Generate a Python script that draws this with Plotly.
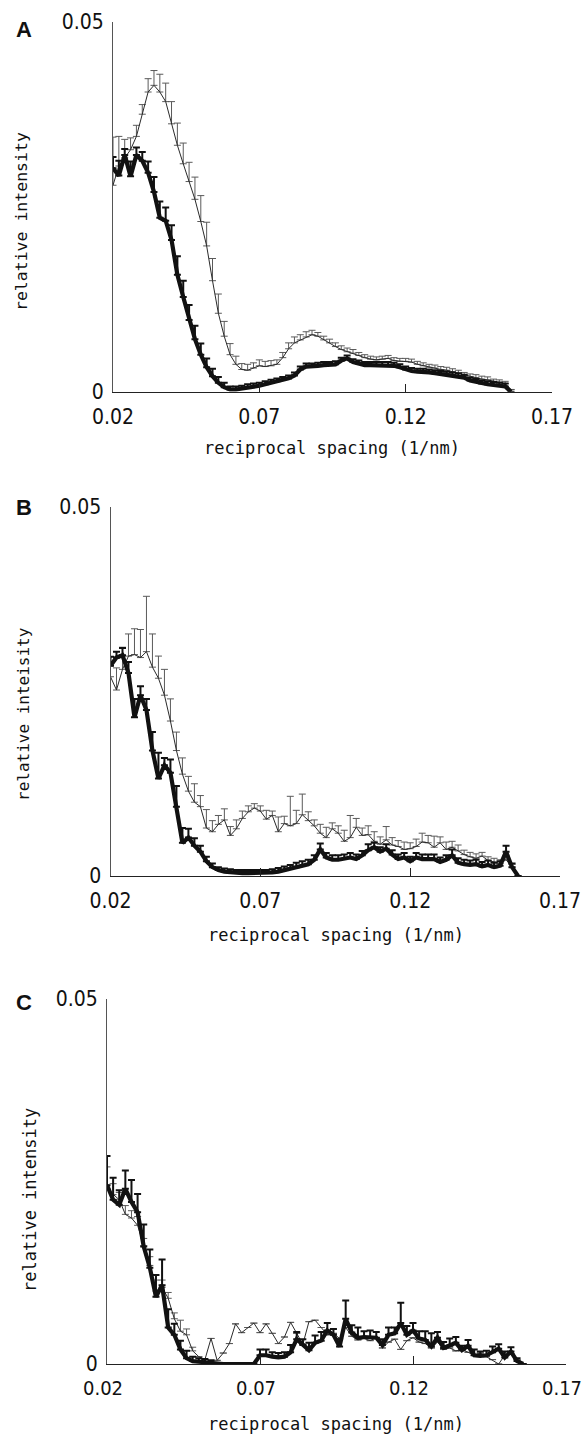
import plotly.graph_objects as go

# ---------------- data ----------------
X_START = 0.020
X_STEP = 0.002
N_POINTS = 69
spacing = [round(X_START + X_STEP * i, 3) for i in range(N_POINTS)]

# Panel A
a_thin = [0.0279, 0.0305, 0.0316, 0.0327, 0.0345, 0.0375, 0.0405, 0.0414, 0.0405, 0.0392,
          0.0362, 0.0333, 0.0308, 0.0284, 0.0260, 0.0230, 0.0197, 0.0150, 0.0106, 0.0075,
          0.0050, 0.0037, 0.0030, 0.0029, 0.0032, 0.0035, 0.0034, 0.0035, 0.0037, 0.0046,
          0.0058, 0.0066, 0.0070, 0.0074, 0.0077, 0.0075, 0.0070, 0.0066, 0.0061, 0.0057,
          0.0054, 0.0052, 0.0049, 0.0046, 0.0044, 0.0043, 0.0044, 0.0045, 0.0042, 0.0041,
          0.0041, 0.0040, 0.0037, 0.0035, 0.0033, 0.0032, 0.0030, 0.0029, 0.0027, 0.0025,
          0.0022, 0.0020, 0.0019, 0.0017, 0.0016, 0.0014, 0.0013, 0.0011, 0.0003]
a_thin_err = [0.0065, 0.0040, 0.0025, 0.0016, 0.0015, 0.0013, 0.0018, 0.0020, 0.0024, 0.0025,
              0.0030, 0.0030, 0.0028, 0.0026, 0.0030, 0.0035, 0.0032, 0.0030, 0.0026, 0.0020,
              0.0015, 0.0011, 0.0008, 0.0008, 0.0007, 0.0008, 0.0007, 0.0007, 0.0006, 0.0007,
              0.0008, 0.0008, 0.0007, 0.0007, 0.0006, 0.0005, 0.0005, 0.0005, 0.0005, 0.0005,
              0.0005, 0.0005, 0.0004, 0.0004, 0.0004, 0.0004, 0.0004, 0.0004, 0.0004, 0.0004,
              0.0004, 0.0004, 0.0004, 0.0004, 0.0004, 0.0004, 0.0004, 0.0004, 0.0004, 0.0004,
              0.0004, 0.0004, 0.0004, 0.0004, 0.0004, 0.0003, 0.0003, 0.0003, 0.0000]
a_thick = [0.0302, 0.0292, 0.0320, 0.0291, 0.0320, 0.0312, 0.0296, 0.0270, 0.0235, 0.0231,
           0.0205, 0.0158, 0.0128, 0.0097, 0.0071, 0.0050, 0.0033, 0.0021, 0.0012, 0.0006,
           0.0003, 0.0003, 0.0004, 0.0006, 0.0007, 0.0008, 0.0010, 0.0012, 0.0014, 0.0016,
           0.0018, 0.0022, 0.0030, 0.0034, 0.0034, 0.0035, 0.0036, 0.0036, 0.0037, 0.0042,
           0.0045, 0.0040, 0.0038, 0.0036, 0.0036, 0.0036, 0.0036, 0.0036, 0.0035, 0.0033,
           0.0030, 0.0028, 0.0027, 0.0027, 0.0026, 0.0025, 0.0024, 0.0023, 0.0022, 0.0021,
           0.0019, 0.0015, 0.0013, 0.0011, 0.0010, 0.0009, 0.0008, 0.0007, 0.0000]
a_thick_err = [0.0015, 0.0020, 0.0008, 0.0020, 0.0010, 0.0012, 0.0015, 0.0020, 0.0022, 0.0018,
               0.0020, 0.0025, 0.0022, 0.0020, 0.0018, 0.0015, 0.0012, 0.0010, 0.0008, 0.0006,
               0.0004, 0.0004, 0.0004, 0.0004, 0.0004, 0.0004, 0.0004, 0.0004, 0.0004, 0.0004,
               0.0004, 0.0004, 0.0004, 0.0004, 0.0004, 0.0004, 0.0004, 0.0004, 0.0004, 0.0004,
               0.0004, 0.0004, 0.0004, 0.0004, 0.0004, 0.0004, 0.0004, 0.0004, 0.0004, 0.0004,
               0.0004, 0.0004, 0.0004, 0.0004, 0.0004, 0.0004, 0.0004, 0.0004, 0.0004, 0.0004,
               0.0004, 0.0004, 0.0004, 0.0004, 0.0004, 0.0004, 0.0004, 0.0004, 0.0000]

# Panel B
b_thin = [0.0270, 0.0252, 0.0280, 0.0298, 0.0300, 0.0296, 0.0304, 0.0283, 0.0268, 0.0245,
          0.0210, 0.0170, 0.0138, 0.0115, 0.0100, 0.0094, 0.0065, 0.0060, 0.0070, 0.0076,
          0.0055, 0.0064, 0.0078, 0.0087, 0.0092, 0.0088, 0.0077, 0.0082, 0.0060, 0.0071,
          0.0068, 0.0071, 0.0083, 0.0075, 0.0068, 0.0058, 0.0052, 0.0064, 0.0058, 0.0047,
          0.0052, 0.0066, 0.0055, 0.0056, 0.0047, 0.0043, 0.0049, 0.0042, 0.0040, 0.0036,
          0.0037, 0.0040, 0.0046, 0.0045, 0.0039, 0.0045, 0.0036, 0.0039, 0.0034, 0.0029,
          0.0026, 0.0024, 0.0027, 0.0021, 0.0019, 0.0017, 0.0022, 0.0012, 0.0000]
b_thin_err = [0.0020, 0.0030, 0.0030, 0.0030, 0.0035, 0.0038, 0.0075, 0.0045, 0.0030, 0.0035,
              0.0030, 0.0025, 0.0022, 0.0020, 0.0025, 0.0015, 0.0025, 0.0015, 0.0012, 0.0015,
              0.0012, 0.0012, 0.0010, 0.0008, 0.0006, 0.0007, 0.0012, 0.0006, 0.0020, 0.0010,
              0.0040, 0.0018, 0.0028, 0.0012, 0.0008, 0.0012, 0.0014, 0.0008, 0.0010, 0.0015,
              0.0030, 0.0012, 0.0010, 0.0012, 0.0013, 0.0010, 0.0018, 0.0010, 0.0008, 0.0010,
              0.0008, 0.0010, 0.0012, 0.0010, 0.0015, 0.0008, 0.0010, 0.0008, 0.0008, 0.0006,
              0.0006, 0.0006, 0.0005, 0.0005, 0.0005, 0.0005, 0.0006, 0.0004, 0.0000]
b_thick = [0.0285, 0.0296, 0.0299, 0.0275, 0.0215, 0.0245, 0.0225, 0.0170, 0.0132, 0.0150,
           0.0140, 0.0094, 0.0045, 0.0052, 0.0041, 0.0033, 0.0020, 0.0012, 0.0008, 0.0006,
           0.0005, 0.0004, 0.0004, 0.0004, 0.0004, 0.0004, 0.0004, 0.0005, 0.0006, 0.0008,
           0.0010, 0.0012, 0.0014, 0.0016, 0.0022, 0.0036, 0.0025, 0.0022, 0.0022, 0.0023,
           0.0025, 0.0023, 0.0028, 0.0035, 0.0039, 0.0033, 0.0037, 0.0029, 0.0023, 0.0025,
           0.0020, 0.0025, 0.0023, 0.0023, 0.0023, 0.0019, 0.0022, 0.0028, 0.0018, 0.0016,
           0.0015, 0.0016, 0.0013, 0.0015, 0.0012, 0.0014, 0.0033, 0.0012, 0.0000]
b_thick_err = [0.0012, 0.0008, 0.0010, 0.0015, 0.0025, 0.0012, 0.0015, 0.0025, 0.0035, 0.0010,
               0.0018, 0.0028, 0.0020, 0.0012, 0.0010, 0.0008, 0.0006, 0.0005, 0.0004, 0.0004,
               0.0004, 0.0004, 0.0004, 0.0004, 0.0004, 0.0004, 0.0004, 0.0004, 0.0005, 0.0005,
               0.0005, 0.0006, 0.0006, 0.0006, 0.0006, 0.0008, 0.0006, 0.0006, 0.0006, 0.0006,
               0.0006, 0.0006, 0.0006, 0.0008, 0.0006, 0.0006, 0.0006, 0.0006, 0.0006, 0.0006,
               0.0006, 0.0006, 0.0006, 0.0006, 0.0006, 0.0006, 0.0006, 0.0008, 0.0006, 0.0006,
               0.0006, 0.0006, 0.0006, 0.0006, 0.0006, 0.0006, 0.0008, 0.0005, 0.0000]

# Panel C
c_thin = [0.0240, 0.0232, 0.0225, 0.0205, 0.0200, 0.0190, 0.0162, 0.0135, 0.0100, 0.0105,
          0.0090, 0.0062, 0.0045, 0.0040, 0.0018, 0.0010, 0.0006, 0.0035, 0.0005, 0.0015,
          0.0028, 0.0055, 0.0043, 0.0050, 0.0056, 0.0043, 0.0055, 0.0042, 0.0028, 0.0037,
          0.0057, 0.0042, 0.0027, 0.0058, 0.0060, 0.0050, 0.0040, 0.0042, 0.0035, 0.0050,
          0.0038, 0.0033, 0.0035, 0.0032, 0.0036, 0.0022, 0.0030, 0.0034, 0.0020, 0.0032,
          0.0036, 0.0030, 0.0028, 0.0022, 0.0030, 0.0020, 0.0022, 0.0018, 0.0020, 0.0016,
          0.0012, 0.0015, 0.0010, 0.0006, 0.0000, 0.0012, 0.0014, 0.0006, 0.0000]
c_thin_err = [0.0030, 0.0015, 0.0010, 0.0012, 0.0010, 0.0012, 0.0010, 0.0012, 0.0015, 0.0010,
              0.0008, 0.0008, 0.0015, 0.0008, 0.0005, 0.0000, 0.0000, 0.0000, 0.0000, 0.0000,
              0.0000, 0.0000, 0.0000, 0.0000, 0.0000, 0.0000, 0.0000, 0.0000, 0.0000, 0.0000,
              0.0000, 0.0000, 0.0000, 0.0000, 0.0000, 0.0000, 0.0000, 0.0000, 0.0000, 0.0000,
              0.0000, 0.0000, 0.0000, 0.0000, 0.0000, 0.0000, 0.0000, 0.0000, 0.0000, 0.0000,
              0.0000, 0.0000, 0.0000, 0.0000, 0.0000, 0.0000, 0.0000, 0.0000, 0.0000, 0.0000,
              0.0000, 0.0000, 0.0000, 0.0000, 0.0000, 0.0000, 0.0000, 0.0000, 0.0000]
c_thick = [0.0245, 0.0225, 0.0218, 0.0240, 0.0222, 0.0208, 0.0161, 0.0132, 0.0092, 0.0108,
           0.0050, 0.0040, 0.0020, 0.0008, 0.0004, 0.0003, 0.0002, 0.0001, 0.0000, 0.0000,
           0.0000, 0.0000, 0.0000, 0.0000, 0.0000, 0.0012, 0.0012, 0.0010, 0.0009, 0.0010,
           0.0016, 0.0034, 0.0026, 0.0019, 0.0029, 0.0032, 0.0046, 0.0040, 0.0024, 0.0062,
           0.0043, 0.0036, 0.0037, 0.0036, 0.0036, 0.0026, 0.0040, 0.0042, 0.0056, 0.0040,
           0.0046, 0.0035, 0.0033, 0.0024, 0.0036, 0.0022, 0.0025, 0.0029, 0.0019, 0.0025,
           0.0012, 0.0011, 0.0012, 0.0016, 0.0021, 0.0009, 0.0017, 0.0004, 0.0000]
c_thick_err = [0.0040, 0.0030, 0.0020, 0.0025, 0.0030, 0.0025, 0.0030, 0.0025, 0.0030, 0.0035,
               0.0025, 0.0015, 0.0012, 0.0010, 0.0006, 0.0005, 0.0005, 0.0004, 0.0000, 0.0000,
               0.0000, 0.0000, 0.0000, 0.0000, 0.0000, 0.0008, 0.0008, 0.0006, 0.0006, 0.0006,
               0.0010, 0.0010, 0.0008, 0.0010, 0.0010, 0.0012, 0.0010, 0.0008, 0.0010, 0.0025,
               0.0010, 0.0014, 0.0008, 0.0010, 0.0008, 0.0008, 0.0010, 0.0008, 0.0028, 0.0012,
               0.0010, 0.0010, 0.0012, 0.0018, 0.0008, 0.0008, 0.0010, 0.0008, 0.0006, 0.0008,
               0.0008, 0.0006, 0.0006, 0.0008, 0.0006, 0.0008, 0.0006, 0.0004, 0.0000]

x_tickvals = [0.02, 0.07, 0.12, 0.17]
x_ticktext = ["0.02", "0.07", "0.12", "0.17"]
y_tickvals = [0, 0.05]
y_ticktext = ["0", "0.05"]
panel_letters = ["A", "B", "C"]
y_titles = ["relative intensity", "relative inteisity", "relative intensity"]
x_title = "reciprocal spacing (1/nm)"

# ---------------- layout helpers ----------------
W, H = 585, 1435
def fx(p):
    return p / W
def fy(p):
    return 1 - p / H

TICK_FONT = "Liberation Sans Narrow, Arial Narrow, DejaVu Sans Condensed, sans-serif"
TITLE_FONT = "DejaVu Sans Mono, Liberation Mono, monospace"

panels = [
    dict(thin=a_thin, thin_err=a_thin_err, thick=a_thick, thick_err=a_thick_err,
         xpx=(113, 552), ypx=(391.7, 21.7), letter=(24, 29), ytit=(21, 222, 16.5),
         xtit=(332, 448), xfont=21, xshift=0),
    dict(thin=b_thin, thin_err=b_thin_err, thick=b_thick, thick_err=b_thick_err,
         xpx=(110.5, 560), ypx=(876, 507), letter=(24, 508), ytit=(23, 714, 16),
         xtit=(336, 935), xfont=21, xshift=0),
    dict(thin=c_thin, thin_err=c_thin_err, thick=c_thick, thick_err=c_thick_err,
         xpx=(107, 566), ypx=(1364, 999), letter=(24, 1002), ytit=(30, 1200, 17),
         xtit=(336, 1424), xfont=20, xshift=-4),
]

fig = go.Figure()
annotations = []
for i, p in enumerate(panels):
    k = "" if i == 0 else str(i + 1)
    xa, ya = "x" + k, "y" + k
    zeros = [0] * N_POINTS
    fig.add_trace(go.Scatter(
        x=spacing, y=p["thin"], xaxis=xa, yaxis=ya, mode="lines",
        line=dict(color="#2a2a2a", width=1), showlegend=False, hoverinfo="skip",
        error_y=dict(type="data", symmetric=False, array=p["thin_err"], arrayminus=zeros,
                     color="#5a5a5a", thickness=1, width=3.5)))
    fig.add_trace(go.Scatter(
        x=spacing, y=p["thick"], xaxis=xa, yaxis=ya, mode="lines",
        line=dict(color="#111111", width=4.2), showlegend=False, hoverinfo="skip",
        error_y=dict(type="data", symmetric=False, array=p["thick_err"], arrayminus=zeros,
                     color="#111111", thickness=2, width=3.5)))

    fig.layout["xaxis" + k] = dict(
        domain=[fx(p["xpx"][0]), fx(p["xpx"][1])], anchor=ya, range=[0.02, 0.17],
        automargin=False, ticklabeloverflow="allow", ticklabelshift=p["xshift"],
        showline=True, linecolor="#222", linewidth=1, showgrid=False, zeroline=False,
        ticks="inside", ticklen=8, tickwidth=1, tickcolor="#222", fixedrange=True,
        tickvals=x_tickvals, ticktext=x_ticktext, ticklabelstandoff=6,
        tickfont=dict(family=TICK_FONT, size=p["xfont"], color="#111"))
    fig.layout["yaxis" + k] = dict(
        domain=[fy(p["ypx"][0]), fy(p["ypx"][1])], anchor=xa, range=[0, 0.05],
        automargin=False, ticklabeloverflow="allow",
        showline=True, linecolor="#555", linewidth=1, showgrid=False, zeroline=False,
        ticks="inside", ticklen=6, tickwidth=1, tickcolor="#333", fixedrange=True,
        tickvals=y_tickvals, ticktext=y_ticktext, ticklabelstandoff=4,
        tickfont=dict(family=TICK_FONT, size=21, color="#111"))

    annotations.append(dict(text="<b>" + panel_letters[i] + "</b>",
                            x=fx(p["letter"][0]), y=fy(p["letter"][1]),
                            xref="paper", yref="paper", showarrow=False,
                            xanchor="center", yanchor="middle",
                            font=dict(family="Liberation Sans, Arial, sans-serif", size=22,
                                      color="#111")))
    annotations.append(dict(text=y_titles[i], x=fx(p["ytit"][0]), y=fy(p["ytit"][1]),
                            xref="paper", yref="paper", showarrow=False, textangle=-90,
                            xanchor="center", yanchor="middle",
                            font=dict(family=TITLE_FONT, size=p["ytit"][2], color="#111")))
    annotations.append(dict(text=x_title, x=fx(p["xtit"][0]), y=fy(p["xtit"][1]),
                            xref="paper", yref="paper", showarrow=False,
                            xanchor="center", yanchor="middle",
                            font=dict(family=TITLE_FONT, size=17, color="#111")))

fig.update_layout(width=W, height=H, margin=dict(l=0, r=0, t=0, b=0, pad=0, autoexpand=False),
                  paper_bgcolor="white", plot_bgcolor="white", hovermode=False,
                  annotations=annotations, showlegend=False)

fig.write_html("out.html", post_script="document.body.style.margin='0px';",
               config={"displayModeBar": False})
